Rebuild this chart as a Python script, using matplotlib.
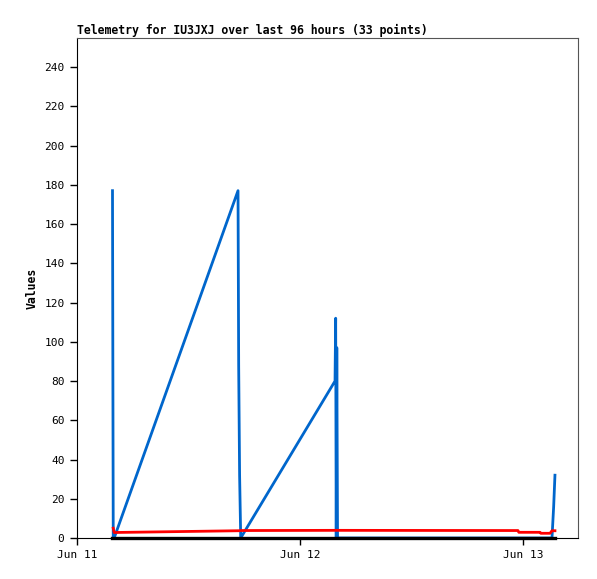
import numpy as np
import matplotlib
matplotlib.use("Agg")
import matplotlib.pyplot as plt
import matplotlib.dates as mdates
from datetime import datetime, timedelta

# sample times, hours after Jun 11 00:00
hours = [3.82, 3.90, 4.00, 17.33, 17.40, 17.50, 17.62, 27.77, 27.84, 27.90,
         27.96, 28.00, 28.04, 47.46, 47.55, 49.83, 49.92, 50.91, 51.12, 51.30, 51.44]
blue = [177, 0, 0, 177, 88, 32, 0, 80, 112, 0,
        97, 48, 0, 0, 0, 0, 0, 0, 0, 16, 32]
red = [np.nan, 5.0, 2.8, 3.7, 3.7, 3.7, 3.8, 3.9, 3.9, 3.9,
       3.9, 3.9, 3.9, 3.8, 2.9, 2.9, 2.4, 2.4, 3.7, 3.7, 3.7]
black = [0] * len(hours)

yticks = list(range(0, 241, 20))
title = "Telemetry for IU3JXJ over last 96 hours (33 points)"

start = datetime(2024, 6, 11)
t = [start + timedelta(hours=h) for h in hours]

plt.rcParams['font.family'] = ['DejaVu Sans Mono']
fig = plt.figure(figsize=(5.97, 5.79), dpi=100)
ax = fig.add_axes([77/597, 41/579, 501/597, 500/579])

ax.plot(t, blue, color='#0066cc', lw=2.0)
ax.plot(t, red, color='#ff0000', lw=2.0)
ax.plot(t, black, color='black', lw=2.4, clip_on=False)

ax.set_xlim(start, start + timedelta(hours=53.92))
ax.set_ylim(0, 254.8)
ax.set_yticks(yticks)
ax.xaxis.set_major_locator(mdates.DayLocator())
ax.xaxis.set_major_formatter(mdates.DateFormatter('%b %d'))

ax.tick_params(labelsize=8, length=5, width=1, color='black', pad=4)
for s in ['top', 'right']:
    ax.spines[s].set_color('#555555')
for s in ['left', 'bottom']:
    ax.spines[s].set_color('black')

ax.set_ylabel('Values', fontsize=8.3, fontweight='bold', labelpad=4)
ax.set_title(title, fontsize=8.3, fontweight='bold', loc='left', pad=3)

fig.savefig('out.png', dpi=100)
